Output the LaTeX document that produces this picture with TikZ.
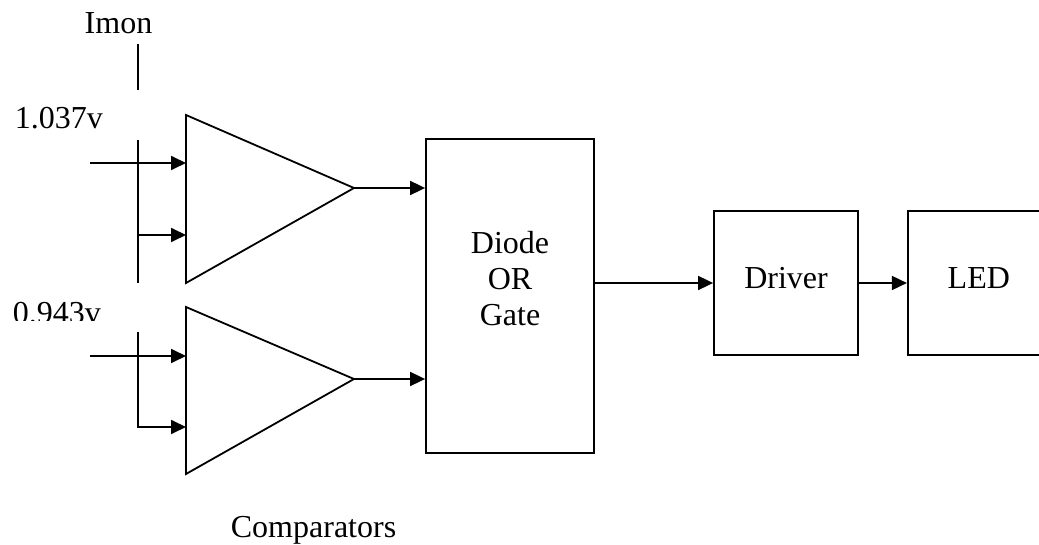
\documentclass[tikz,border=0pt]{standalone}
\usepackage{fontspec}
\setmainfont{Liberation Serif}
\usetikzlibrary{arrows.meta, positioning, calc}

\tikzset{
  lbl/.style={font=\fontsize{32}{36}\selectfont, inner sep=0pt},
  blk/.style={draw, line width=1.8pt, inner sep=0pt, text height=22pt, text depth=11pt},
  arr/.style={-{Triangle[length=15pt, width=14pt]}},
}

\begin{document}
\begin{tikzpicture}[x=1pt, y=-1pt, line width=1.8pt]
\clip (0,0) rectangle (1039,545);

% labels
\node[lbl, anchor=base] (imon) at (118.5,34) {Imon};
\node[lbl, anchor=base west] (vhi) at (14,129) {1.037v};
\begin{scope}
  \clip (0,290) rectangle (140,321);
  \node[lbl, anchor=base west] (vlo) at (12,324) {0.943v};
\end{scope}
\node[lbl, anchor=base west] (cmplbl) at (230,537) {Comparators};

% comparators
\draw (186,115) coordinate (cmpAtop) -- (354,188) coordinate (cmpAout)
  -- (186,283) coordinate (cmpAbot) -- cycle;
\draw (186,307) coordinate (cmpBtop) -- (354,379) coordinate (cmpBout)
  -- (186,474) coordinate (cmpBbot) -- cycle;

% blocks
\node[blk, minimum width=168, minimum height=314,
  label={[lbl, align=center, yshift=17]center:Diode\\OR\\Gate}]
  (diode) at (510,296) {};
\node[blk, lbl, minimum width=144, minimum height=144] (driver) at (786,283) {Driver};
\node[blk, lbl, minimum width=142, minimum height=144, right=48 of driver] (led) {LED};

% Imon bus
\coordinate (busA) at (138,44);
\coordinate (busB) at (138,90);
\coordinate (busC) at (138,140);
\coordinate (busD) at (138,283);
\coordinate (busE) at (138,332);
\coordinate (busF) at (138,427);
\draw (busA) -- (busB);
\draw (busC) -- (busD);
\draw (busE) -- (busF);

% reference inputs
\coordinate (inA) at (90,163);
\coordinate (inB) at (90,356);
\draw[arr] (inA) -- (inA -| cmpAtop);
\draw[arr] (inB) -- (inB -| cmpBtop);
\draw[arr] (busD |- 0,235) -- (cmpAtop |- 0,235);
\draw[arr] (busE) -- (busF) -- (busF -| cmpBtop);

% outputs
\draw[arr] (cmpAout) -- (cmpAout -| diode.west);
\draw[arr] (cmpBout) -- (cmpBout -| diode.west);
\draw[arr] (diode.east |- driver.west) -- (driver.west);
\draw[arr] (driver) -- (led);
\end{tikzpicture}
\end{document}
